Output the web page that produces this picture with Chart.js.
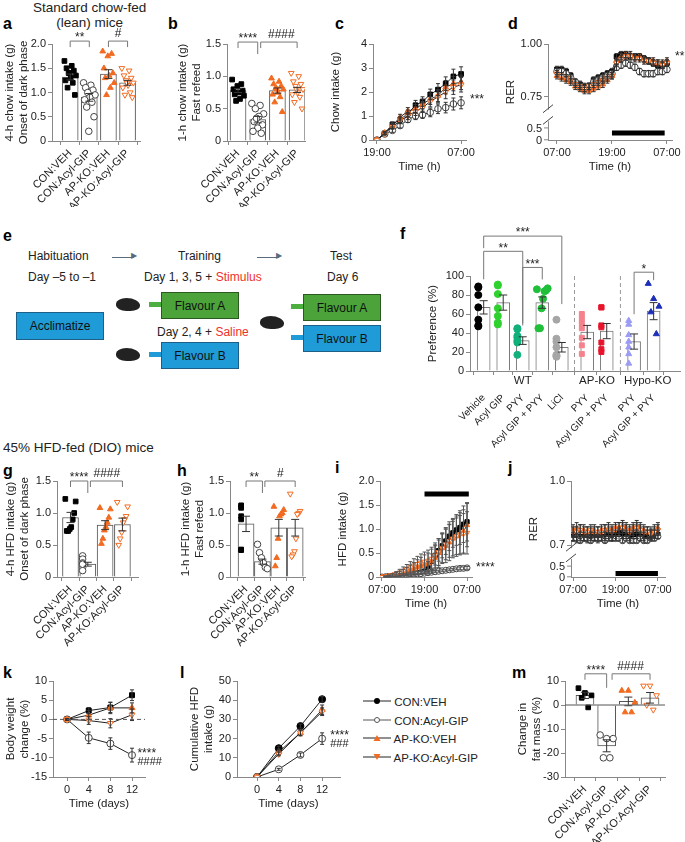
<!DOCTYPE html>
<html><head><meta charset="utf-8">
<script src="https://cdn.jsdelivr.net/npm/chart.js@4.4.1/dist/chart.umd.min.js"></script>
<style>
body{margin:0;background:#fff;font-family:"Liberation Sans",Arial,sans-serif;width:685px;height:842px;position:relative;overflow:hidden}
.t{position:absolute;font-size:11.5px;color:#222;white-space:nowrap}
.r{position:absolute;font-size:11px;color:#222;white-space:nowrap;width:30px;text-align:right;line-height:12px;z-index:5}
.L{position:absolute;font-weight:bold;font-size:16px;line-height:16px}
.box{position:absolute;color:#111;font-size:12px;display:flex;align-items:center;justify-content:center;box-sizing:border-box}
.mouse{position:absolute;width:24px;height:13px;background:#222;border-radius:50% 65% 45% 50%}
.noz{position:absolute;width:12px;height:5px}
</style></head><body>
<script>
// ---------- DATA ----------
const catsGIP=['CON:VEH','CON:Acyl-GIP','AP-KO:VEH','AP-KO:Acyl-GIP'];
const aMeans=[1.32,0.9,1.38,1.2], aSem=[0.06,0.08,0.09,0.05];
const aPts=[[1.65,1.55,1.5,1.45,1.4,1.35,1.3,1.25,1.2,1.1,0.95,1.4],[1.2,1.15,1.1,1.05,1.0,0.95,0.9,0.85,0.8,0.7,0.5,0.2],[1.85,1.8,1.75,1.5,1.4,1.35,1.3,1.2,1.1,0.95],[1.5,1.45,1.35,1.3,1.25,1.2,1.15,1.1,1.0,0.95,0.9,1.2]];
const bMeans=[0.78,0.33,0.78,0.79], bSem=[0.03,0.05,0.04,0.04];
const bPts=[[0.95,0.88,0.85,0.8,0.78,0.75,0.72,0.7,0.65,0.62],[0.58,0.55,0.5,0.42,0.38,0.3,0.25,0.2,0.15,0.12,0.35],[0.97,0.92,0.88,0.85,0.82,0.8,0.75,0.72,0.68,0.6,0.45,0.8],[1.05,1.0,0.92,0.88,0.85,0.8,0.75,0.72,0.68,0.6,0.5,0.8]];
const cHours=[0,1.1,2.2,3.3,4.4,5.5,6.5,7.6,8.7,9.8,10.9,12];
const cSeries=[[0,0.28,0.65,0.85,1.1,1.45,1.6,1.9,2.1,2.35,2.65,2.75],[0,0.25,0.4,0.6,0.85,1.0,1.05,1.15,1.3,1.35,1.5,1.55],[0,0.3,0.6,0.95,1.2,1.3,1.5,1.7,1.85,2.2,2.35,2.4],[0,0.28,0.55,0.8,1.0,1.2,1.35,1.6,1.8,2.0,2.2,2.3]];
const cErr=[[0,0.05,0.1,0.12,0.15,0.2,0.2,0.22,0.25,0.28,0.3,0.3],[0,0.05,0.08,0.1,0.12,0.15,0.15,0.18,0.2,0.22,0.25,0.25],[0,0.05,0.1,0.12,0.15,0.18,0.2,0.22,0.25,0.28,0.3,0.3],[0,0.05,0.1,0.12,0.15,0.18,0.2,0.22,0.25,0.28,0.3,0.3]];
const dHours=[0,1,2,3,4,5,6,7,8,9,10,11,12,13,14,15,16,17,18,19,20,21,22,23,24];
const dSeries=[[.88,.88,.87,.85,.82,.81,.80,.80,.83,.84,.85,.86,.87,.94,.95,.95,.94,.94,.94,.93,.92,.91,.90,.90,.91],
[.87,.87,.86,.84,.82,.80,.79,.80,.82,.83,.84,.85,.86,.89,.90,.91,.90,.89,.87,.86,.86,.86,.87,.87,.88],
[.85,.84,.83,.82,.80,.79,.78,.78,.79,.80,.81,.83,.85,.92,.94,.95,.95,.94,.94,.93,.92,.92,.91,.91,.92],
[.86,.85,.84,.83,.81,.80,.79,.80,.81,.82,.83,.84,.85,.91,.93,.94,.94,.93,.93,.92,.92,.91,.91,.90,.91]];
const dErr=[0.015,0.015,0.015,0.015];
const fCats=['Vehicle','Acyl GIP','PYY','Acyl GIP + PYY','LiCl','PYY','Acyl GIP + PYY','PYY','Acyl GIP + PYY'];
const fX=[0,1,2,3,4,5.3,6.3,7.7,8.7];
const fMeans=[67,72,32,72,25,41,42,31,63], fSem=[7,8,4,6,5,7,8,8,9];
const fPts=[[88,89,80,67,54,48,47],[91,90,81,66,58,51,49],[45,44,37,35,32,30,17],[86,87,85,84,76,66,45,45],[54,34,31,25,17,15,16],[60,55,50,45,35,27,18],[67,67,48,46,30,23,20],[53,49,38,31,25,18,8],[92,76,68,62,39]];
const fCols=['#000','#2fd12f','#12b07a','#1fbf3a','#a6a6a6','#f4828c','#e8142b','#9b9cf4','#1c2fb8'];
const fShape=['circle','circle','circle','circle','circle','rect','rect','triangle','triangle'];
const gMeans=[0.93,0.2,0.81,0.82], gSem=[0.08,0.03,0.07,0.1];
const gPts=[[1.22,1.18,1.0,0.9,0.78,0.75,0.72,0.72],[0.33,0.28,0.22,0.2,0.15,0.1,0.2],[1.08,1.06,0.93,0.85,0.78,0.73,0.6,0.52],[1.17,1.1,0.95,0.9,0.85,0.7,0.6,0.5]];
const hMeans=[0.83,0.24,0.77,0.77], hSem=[0.12,0.04,0.13,0.13];
const hPts=[[1.12,1.1,1.08,0.95,0.9,0.43,0.42],[0.51,0.38,0.3,0.22,0.15,0.13],[1.1,1.05,1.0,0.98,0.95,0.6,0.3,0.17],[1.3,1.03,1.0,0.98,0.6,0.4,0.35,0.32]];
const iHours=dHours;
const iSeries=[[0,.01,.02,.03,.04,.05,.05,.06,.07,.08,.09,.1,.12,.22,.33,.45,.55,.65,.75,.85,.92,.98,1.03,1.1,1.15],
[0,.005,.01,.015,.02,.03,.035,.04,.05,.06,.065,.07,.08,.09,.1,.11,.12,.13,.14,.15,.16,.17,.18,.18,.19],
[0,.01,.02,.03,.05,.06,.08,.1,.13,.16,.2,.23,.26,.28,.33,.4,.5,.6,.65,.72,.8,.85,.9,.95,1.08],
[0,.01,.02,.04,.06,.09,.12,.16,.2,.24,.27,.3,.32,.34,.38,.45,.52,.6,.68,.75,.8,.85,.88,.9,.92]];
const iErr=[[0,.01,.01,.01,.02,.02,.02,.02,.03,.03,.03,.04,.05,.1,.15,.2,.22,.25,.28,.3,.3,.32,.35,.38,.4],
[0,0,0,0,0,.01,.01,.01,.01,.01,.01,.01,.01,.01,.02,.02,.02,.02,.02,.02,.02,.02,.03,.03,.03],
[0,.01,.02,.03,.05,.06,.08,.1,.12,.14,.16,.18,.2,.22,.25,.27,.3,.32,.35,.38,.4,.42,.44,.45,.45],
[0,.01,.02,.03,.05,.07,.09,.1,.12,.14,.16,.18,.2,.22,.24,.26,.28,.3,.32,.34,.36,.38,.4,.42,.44]];
const jSeries=[[.74,.73,.74,.74,.73,.74,.74,.73,.74,.74,.75,.74,.75,.76,.75,.75,.74,.75,.75,.74,.74,.75,.75,.75,.75],
[.73,.73,.72,.73,.73,.72,.73,.73,.73,.72,.73,.73,.73,.73,.72,.73,.72,.72,.72,.73,.72,.72,.73,.73,.74],
[.77,.78,.77,.77,.76,.76,.77,.76,.77,.77,.78,.77,.78,.78,.79,.78,.77,.78,.79,.78,.77,.76,.76,.77,.78],
[.76,.76,.77,.76,.76,.77,.76,.76,.76,.77,.77,.76,.77,.78,.78,.77,.76,.77,.78,.77,.76,.76,.75,.76,.77]];
const jErr=[0.02,0.01,0.025,0.025];
const kDays=[0,4,8,12];
const kSeries=[[0,2.3,3.1,6.3],[0,-4.8,-6.3,-9.3],[0,1.1,3,3],[0,-0.3,-1,1.2]];
const kErr=[[0.2,0.8,1.3,1.4],[0.2,1.5,1.5,1.8],[0.2,1.2,1.5,1.3],[0.2,1,1.2,1.5]];
const lSeries=[[0,15,26.5,40.5],[0,4,11.5,20],[0,13,23,35],[0,12,23,34]];
const lErr=[[0,1,1,1.5],[0,0.5,1,3],[0,1.5,1.5,2.5],[0,1,1.5,2]];
const mMeans=[4,-17,1.5,3], mSem=[1.3,2.5,1.8,2.2];
const mPts=[[7,5,4,3,-1],[-12.5,-14,-14,-22,-22],[6,6,1,-3,-3],[8,8,4,0,-2]];

// ---------- helpers ----------
Chart.defaults.font.family='"Liberation Sans",Arial,sans-serif';
Chart.defaults.font.size=11;Chart.defaults.color='#222';Chart.defaults.animation=false;
const STY=[{c:'#000',fill:true,ps:'rect'},{c:'#444',fill:false,ps:'circle'},{c:'#f26b21',fill:true,ps:'triangle'},{c:'#f26b21',fill:false,ps:'triangle',rot:180}];
const STYl=[{c:'#000',fill:true,ps:'circle'},{c:'#444',fill:false,ps:'circle'},{c:'#f26b21',fill:true,ps:'triangle'},{c:'#f26b21',fill:false,ps:'triangle',rot:180}];
const AX='#888';
function place(L,T,R,B,g){const yw=g.yw||45,xh=g.xh||35,pt=g.pt||10,pr=g.pr||10;
 const d=document.createElement('div');d.style.cssText=`position:absolute;left:${L-yw}px;top:${T-pt}px;width:${R-L+yw+pr}px;height:${B-T+pt+xh}px`;
 const c=document.createElement('canvas');d.appendChild(c);document.body.appendChild(d);return {c,yw,xh,pad:{top:pt,right:pr,left:0,bottom:0}};}
function jit(j,n){return n>1?(((j*7)%n)/(n-1)-0.5):0;}
function ax(min,max,ticks,labels,title,fit,tk){return {type:'linear',min,max,offset:false,
 afterBuildTicks:s=>{s.ticks=ticks.map(v=>({value:v}))},
 afterFit:s=>{if(fit.w!=null)s.width=fit.w;if(fit.h!=null)s.height=fit.h;},
 ticks:Object.assign({callback:(v,i)=>labels?labels[i]:v,autoSkip:false,source:'data',padding:2,color:'#222',font:{size:11}},tk||{}),
 grid:{drawOnChartArea:false,color:AX,tickLength:4},border:{color:AX},
 title:{display:!!title,text:title,color:'#222',font:{size:11.5},padding:{top:1,bottom:1}}};}
const deco={id:'deco',afterDatasetsDraw(ch){
 const c=ch.ctx,x=ch.scales.x,y=ch.scales.y,o=ch.options.deco||{};
 c.save();c.lineWidth=1;
 ch.data.datasets.forEach((ds,di)=>{if(ds.errs==null)return;c.strokeStyle=ds.errColor||ds.borderColor;
  ds.data.forEach((p,i)=>{const e=Array.isArray(ds.errs)?ds.errs[i]:ds.errs;if(!e)return;const px=x.getPixelForValue(p.x),y1=y.getPixelForValue(p.y-e),y2=y.getPixelForValue(p.y+e);const cw=ds.cap||3;
   c.beginPath();c.moveTo(px,y1);c.lineTo(px,y2);c.moveTo(px-cw,y1);c.lineTo(px+cw,y1);c.moveTo(px-cw,y2);c.lineTo(px+cw,y2);c.stroke();});});
 c.strokeStyle='#222';c.fillStyle='#222';
 (o.hline||[]).forEach(h=>{if(h.d)c.setLineDash([4,3]);c.strokeStyle=h.c||'#222';c.beginPath();c.moveTo(ch.chartArea.left,y.getPixelForValue(h.v));c.lineTo(ch.chartArea.right,y.getPixelForValue(h.v));c.stroke();c.setLineDash([]);});
 c.strokeStyle='#222';
 (o.vline||[]).forEach(v=>{c.strokeStyle='#999';c.setLineDash([4,3]);c.beginPath();c.moveTo(x.getPixelForValue(v.x),y.getPixelForValue(v.y1));c.lineTo(x.getPixelForValue(v.x),y.getPixelForValue(v.y2));c.stroke();c.setLineDash([]);c.strokeStyle='#222';});
 (o.hbar||[]).forEach(h=>{c.strokeStyle='#000';c.lineWidth=5;c.beginPath();c.moveTo(x.getPixelForValue(h.x1),y.getPixelForValue(h.y));c.lineTo(x.getPixelForValue(h.x2),y.getPixelForValue(h.y));c.stroke();c.lineWidth=1;});
 c.strokeStyle='#777';
 (o.br||[]).forEach(b=>{const x1=x.getPixelForValue(b.x1),x2=x.getPixelForValue(b.x2),py=y.getPixelForValue(b.y);c.beginPath();c.moveTo(x1,py+(b.l1||6));c.lineTo(x1,py);c.lineTo(x2,py);c.lineTo(x2,py+(b.l2||6));c.stroke();
  c.font='12px "Liberation Sans"';c.textAlign='center';c.textBaseline='bottom';c.fillText(b.t,(b.tx!=null?x.getPixelForValue(b.tx):(x1+x2)/2),py+(b.t[0]=='*'?3:-1));});
 (o.txt||[]).forEach(t=>{c.font=(t.s||12)+'px "Liberation Sans"';c.textAlign=t.a||'left';c.textBaseline='middle';c.fillText(t.t,t.px!=null?ch.chartArea.right+t.px:x.getPixelForValue(t.x),y.getPixelForValue(t.y));});
 (o.glab||[]).forEach(t=>{c.font='11.5px "Liberation Sans"';c.textAlign='center';c.textBaseline='top';c.fillText(t.t,x.getPixelForValue(t.x),ch.chartArea.bottom+4);});
 (o.brk||[]).forEach(v=>{const py=y.getPixelForValue(v[0]),py2=y.getPixelForValue(v[1]),px=ch.chartArea.left;c.fillStyle='#fff';c.fillRect(px-2,py,5,py2-py);c.strokeStyle='#444';c.beginPath();c.moveTo(px-5,py+3);c.lineTo(px+5,py-5);c.moveTo(px-5,py2+3);c.lineTo(px+5,py2-5);c.stroke();c.fillStyle='#222';});
 (o.ftick||[]).forEach(f=>{const py=y.getPixelForValue(f),px=ch.chartArea.left;c.strokeStyle=AX;c.beginPath();c.moveTo(px-4,py);c.lineTo(px,py);c.stroke();});
 c.restore();}};
Chart.register(deco);

function barDot(P,o){
 const xs=o.xs||o.means.map((_,i)=>i);
 const ds=[{type:'bar',data:o.means.map((m,i)=>({x:xs[i],y:m})),backgroundColor:'#fff',borderColor:o.bc||'#555',borderWidth:1,barThickness:o.bw||16,errs:o.sems,errColor:'#333',cap:4,order:3}];
 o.pts.forEach((arr,i)=>{const s=o.sty[i];ds.push({type:'scatter',data:arr.map((v,j)=>({x:xs[i]+jit(j,arr.length)*(o.jw||0.6),y:v})),pointStyle:s.ps,pointRotation:s.rot||0,pointRadius:s.r||3.3,backgroundColor:s.fill?s.c:'#fff',borderColor:s.c,borderWidth:1,order:1});});
 new Chart(P.c,{type:'bar',data:{datasets:ds},options:{responsive:true,maintainAspectRatio:false,layout:{padding:P.pad},
  plugins:{legend:{display:false},tooltip:{enabled:false}},deco:o.deco||{},
  scales:{x:ax(o.x[0],o.x[1],xs,o.cats,null,{h:P.xh},{maxRotation:45,minRotation:45,padding:o.xpad||2,font:{size:o.xfs||11}}),
   y:ax(o.y[0],o.y[1],o.yt,o.yl,o.ytitle,{w:P.yw})}}});
}
function lines(P,o){
 const ds=o.series.map((s,i)=>{const st=o.sty[i];return{type:'line',data:s.map((v,j)=>({x:o.xs[j],y:v})),borderColor:'#222',borderWidth:1,pointStyle:st.ps,pointRotation:st.rot||0,pointRadius:o.r||3,backgroundColor:st.fill?st.c:'#fff',pointBorderColor:st.c,pointBackgroundColor:st.fill?st.c:'#fff',errs:o.errs[i],errColor:o.ec||'#333',cap:2,order:o.series.length-i}});
 new Chart(P.c,{type:'line',data:{datasets:ds},options:{responsive:true,maintainAspectRatio:false,layout:{padding:P.pad},
  plugins:{legend:{display:false},tooltip:{enabled:false}},deco:o.deco||{},
  scales:{x:ax(o.x[0],o.x[1],o.xt,o.xl,o.xtitle,{h:P.xh}),y:ax(o.y[0],o.y[1],o.yt,o.yl,o.ytitle,{w:P.yw})}}});
}
</script>

<div class="t" style="left:33px;top:0px;font-size:13.5px;line-height:15px;text-align:center">Standard chow-fed<br>(lean) mice</div>
<div class="L" style="left:3px;top:16px">a</div>
<div class="L" style="left:168px;top:16px">b</div>
<div class="L" style="left:335px;top:16px">c</div>
<div class="L" style="left:508px;top:16px">d</div>
<div class="L" style="left:3px;top:228px">e</div>
<div class="L" style="left:400px;top:226px">f</div>
<div class="t" style="left:3px;top:440px;font-size:13.5px">45% HFD-fed (DIO) mice</div>
<div class="L" style="left:3px;top:463px">g</div>
<div class="L" style="left:177px;top:463px">h</div>
<div class="L" style="left:335px;top:460px">i</div>
<div class="L" style="left:508px;top:460px">j</div>
<div class="L" style="left:3px;top:665px">k</div>
<div class="L" style="left:180px;top:665px">l</div>
<div class="L" style="left:512px;top:665px">m</div>

<!-- panel e schematic -->
<div class="t" style="left:28px;top:249px;font-size:12px">Habituation</div>
<div class="t" style="left:178px;top:249px;font-size:12px">Training</div>
<div class="t" style="left:330px;top:249px;font-size:12px">Test</div>
<div style="position:absolute;left:112px;top:257px;width:22px;border-top:1.5px solid #5a6b7d"></div><div class="t" style="left:131px;top:251px;color:#5a6b7d;font-size:8px">▶</div>
<div style="position:absolute;left:257px;top:257px;width:22px;border-top:1.5px solid #5a6b7d"></div><div class="t" style="left:276px;top:251px;color:#5a6b7d;font-size:8px">▶</div>
<div class="t" style="left:28px;top:270px;font-size:12px">Day –5 to –1</div>
<div class="t" style="left:144px;top:270px;font-size:12px">Day 1, 3, 5 + <span style="color:#f0302a">Stimulus</span></div>
<div class="t" style="left:327px;top:270px;font-size:12px">Day 6</div>
<div class="box" style="left:16px;top:312px;width:88px;height:28px;background:#1f9bd7;border:1px solid #1d5f86">Acclimatize</div>
<div class="mouse" style="left:116px;top:298px"></div>
<div class="noz" style="left:149px;top:302px;background:#4caf3f"></div>
<div class="box" style="left:161px;top:292px;width:78px;height:27px;background:#4ba339;border:1px solid #2a5a20">Flavour A</div>
<div class="t" style="left:157px;top:325px;font-size:12px">Day 2, 4 + <span style="color:#f0302a">Saline</span></div>
<div class="mouse" style="left:116px;top:348px"></div>
<div class="noz" style="left:149px;top:352px;background:#1f9bd7"></div>
<div class="box" style="left:161px;top:342px;width:78px;height:27px;background:#1f9bd7;border:1px solid #1d5f86">Flavour B</div>
<div class="mouse" style="left:260px;top:316px"></div>
<div class="noz" style="left:291px;top:304px;background:#4caf3f"></div>
<div class="box" style="left:303px;top:294px;width:78px;height:27px;background:#4ba339;border:1px solid #2a5a20">Flavour A</div>
<div class="noz" style="left:291px;top:335px;background:#1f9bd7"></div>
<div class="box" style="left:303px;top:325px;width:78px;height:27px;background:#1f9bd7;border:1px solid #1d5f86">Flavour B</div>

<!-- legend -->
<div style="position:absolute;left:363px;top:693px;font-size:11.5px;line-height:18.5px;color:#222">
<div><svg width="28" height="10"><line x1="0" y1="5" x2="28" y2="5" stroke="#222"/><circle cx="14" cy="5" r="3" fill="#000"/></svg> CON:VEH</div>
<div><svg width="28" height="10"><line x1="0" y1="5" x2="28" y2="5" stroke="#555"/><circle cx="14" cy="5" r="2.5" fill="#fff" stroke="#555"/></svg> CON:Acyl-GIP</div>
<div><svg width="28" height="10"><line x1="0" y1="5" x2="28" y2="5" stroke="#222"/><polygon points="10.5,8 17.5,8 14,2" fill="#f26b21"/></svg> AP-KO:VEH</div>
<div><svg width="28" height="10"><line x1="0" y1="5" x2="28" y2="5" stroke="#222"/><polygon points="10.5,2 17.5,2 14,8" fill="#f26b21"/></svg> AP-KO:Acyl-GIP</div>
</div>

<script>
const y2=[0,0.5,1,1.5,2], y2l=['0','0.5','1.0','1.5','2.0'], y15=[0,0.5,1,1.5], y15l=['0','0.5','1.0','1.5'];
barDot(place(52,44,140,141,{yw:50,pt:22,pr:5,xh:66}),{cats:catsGIP,means:aMeans,sems:aSem,pts:aPts,sty:STY,x:[-0.95,3.65],y:[0,2],yt:y2,yl:y2l,ytitle:['4-h chow intake (g)','Onset of dark phase'],
 deco:{br:[{x1:0,x2:1,y:2.06,t:'**'},{x1:2,x2:3,y:2.06,t:'#'}]}});
barDot(place(227,44,305,141,{yw:52,pt:22,pr:5,xh:66}),{cats:catsGIP,means:bMeans,sems:bSem,pts:bPts,sty:STY,x:[-0.56,3.4],y:[0,1.5],yt:y15,yl:y15l,ytitle:['1-h chow intake (g)','Fast refeed'],
 deco:{br:[{x1:0,x2:1,y:1.53,t:'****',l2:12},{x1:1.15,x2:3,y:1.53,t:'####',tx:2.2}]}});
lines(place(373,44,466,140,{pt:10,pr:34}),{xs:cHours,series:cSeries,errs:cErr,sty:STY,r:3.3,x:[-0.57,12.7],xt:[0,12],xl:['19:00','07:00'],xtitle:'Time (h)',y:[0,4],yt:[0,1,2,3,4],ytitle:'Chow intake (g)',
 deco:{txt:[{px:4,y:1.7,t:'***'}]}});
lines(place(548,44,672,140,{pt:10,pr:13}),{xs:dHours,series:dSeries,errs:dErr,sty:STY,r:3.3,x:[-1.96,25.1],xt:[0,12,24],xl:['07:00','19:00','07:00'],xtitle:'Time (h)',y:[0.547,1.0],yt:[0.75,1.0],yl:['0.75','1.00'],ytitle:'RER',
 deco:{txt:[{px:3,y:0.94,t:'**'}],hbar:[{x1:12,x2:23.5,y:0.58}],brk:[[0.69,0.635]],ftick:[0.548,0.604]}});
barDot(place(470,276,683,371,{pt:50,pr:2,xh:82}),{xs:fX,cats:fCats,means:fMeans,sems:fSem,pts:fPts,sty:fCols.map((c,i)=>({c,fill:true,ps:fShape[i],r:3.5})),bw:13,jw:0.55,xpad:17,xfs:10,bc:'#777',
 x:[-0.7,10.05],y:[0,100],yt:[0,20,40,60,80,100],ytitle:'Preference (%)',
 deco:{vline:[{x:4.65,y1:0,y2:100},{x:7.0,y1:0,y2:100}],glab:[{t:'WT',x:2},{t:'AP-KO',x:5.8},{t:'Hypo-KO',x:8.4}],
 br:[{x1:0,x2:4,y:142,t:'***',l1:12,l2:68},{x1:0,x2:2,y:126,t:'**',l1:28,l2:72},{x1:2,x2:3,y:109,t:'***',l1:58,l2:12},{x1:7.7,x2:8.7,y:104,t:'*',l1:42,l2:8}]}});
barDot(place(57,481,138,577,{yw:54,pt:22,pr:5,xh:70}),{cats:catsGIP,means:gMeans,sems:gSem,pts:gPts,sty:STY,x:[-0.78,3.9],y:[0,1.5],yt:y15,yl:y15l,ytitle:['4-h HFD intake (g)','Onset of dark phase'],
 deco:{br:[{x1:0,x2:1,y:1.5,t:'****',l2:12},{x1:1.15,x2:3,y:1.5,t:'####',tx:2.1}]}});
barDot(place(230,481,305,577,{yw:52,pt:22,pr:5,xh:70}),{cats:catsGIP,means:hMeans,sems:hSem,pts:hPts,sty:STY,x:[-0.98,3.6],y:[0,1.5],yt:y15,yl:y15l,ytitle:['1-h HFD intake (g)','Fast refeed'],
 deco:{br:[{x1:0,x2:1,y:1.5,t:'**',l2:12},{x1:1.15,x2:3,y:1.5,t:'#',tx:2.1}]}});
lines(place(380,481,472,577,{pt:10,pr:48}),{xs:iHours,series:iSeries,errs:iErr,sty:STY,r:3,ec:'#555',x:[-0.56,25.4],xt:[0,12,24],xl:['07:00','19:00','07:00'],xtitle:'Time (h)',y:[0,2],yt:y2,yl:y2l,ytitle:'HFD intake (g)',
 deco:{txt:[{px:4,y:0.2,t:'****'}],hbar:[{x1:12,x2:24.5,y:1.73}]}});
lines(place(571,481,665,577,{pt:10,pr:12}),{xs:dHours,series:jSeries,errs:jErr,sty:STY,r:3,x:[-0.6,26],xt:[0,12,24],xl:['07:00','19:00','07:00'],xtitle:'Time (h)',y:[0.55,1.0],yt:[0.7,1.0],yl:['0.7','1.0'],ytitle:'RER',
 deco:{hbar:[{x1:12,x2:24,y:0.566}],brk:[[0.685,0.635]],ftick:[0.551,0.601]}});
lines(place(53,681,145,777,{yw:50,pt:10,pr:45}),{xs:kDays,series:kSeries,errs:kErr,sty:STY,r:3.5,x:[-2.6,14.4],xt:[0,4,8,12],xtitle:'Time (days)',y:[-15,10],yt:[-15,-10,-5,0,5,10],ytitle:['Body weight','change (%)'],
 deco:{hline:[{v:0,d:true,c:'#555'}],txt:[{x:13,y:-8.8,t:'****',s:12},{x:13,y:-11,t:'####',s:11}]}});
lines(place(237,681,340,777,{yw:50,pt:10,pr:30}),{xs:kDays,series:lSeries,errs:lErr,sty:STYl,r:3.5,x:[-3.7,15.3],xt:[0,4,8,12],xtitle:'Time (days)',y:[0,50],yt:[0,10,20,30,40,50],ytitle:['Cumulative HFD','intake (g)'],
 deco:{txt:[{x:13.5,y:21.5,t:'****',s:12},{x:13.5,y:17,t:'###',s:11}]}});
barDot(place(565,681,665,777,{yw:50,pt:22,pr:15,xh:66}),{cats:catsGIP,means:mMeans,sems:mSem,pts:mPts,sty:STY,bw:18,x:[-0.92,3.69],y:[-30,10],yt:[-30,-20,-10,0,10],ytitle:['Change in','fat mass (%)'],
 deco:{hline:[{v:0,c:'#555'}],br:[{x1:0,x2:1,y:13,t:'****',l2:14},{x1:1.25,x2:3,y:13,t:'####',tx:2.1}]}});
</script>
<!-- broken-axis lower tick labels (d, j) -->
<div class="r" style="left:512px;top:122px">0.5</div>
<div class="r" style="left:512px;top:134px">0</div>
<div class="r" style="left:535px;top:560px">0.5</div>
<div class="r" style="left:535px;top:571px">0</div>
</body></html>
